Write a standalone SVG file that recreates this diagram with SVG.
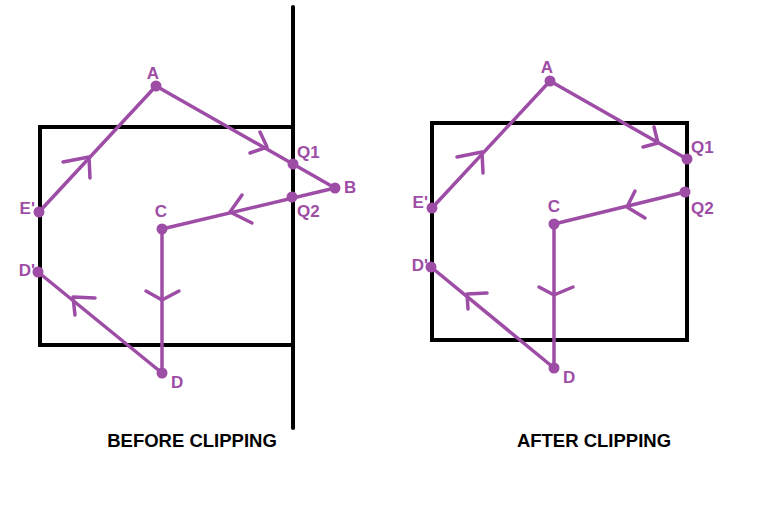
<svg xmlns="http://www.w3.org/2000/svg" width="768" height="508" viewBox="0 0 768 508">
<style>
.box{fill:none;stroke:#000;stroke-width:4}
.clip{stroke:#000;stroke-width:4;stroke-linecap:round}
.edge{fill:none;stroke:#9E4DA6;stroke-width:3.5;stroke-linecap:round;stroke-linejoin:round}
.dot{fill:#9E4DA6}
.lbl{font-family:"Liberation Sans",Arial,sans-serif;font-weight:bold;font-size:17px;fill:#9E4DA6}
.title{font-family:"Liberation Sans",Arial,sans-serif;font-weight:bold;font-size:18.5px;fill:#000}
</style>
<rect width="768" height="508" fill="#fff"/>
<g id="before">
<g id="window-left"><rect class="box" x="40" y="127" width="253" height="218"/></g>
<g id="clip-line"><line class="clip" x1="293" y1="7" x2="293" y2="428"/></g>
<g id="connectors-left">
<polyline class="edge" points="39,212 156,86 335,188 162,229 162,373 38,272"/>
<polyline class="edge" points="63,162 89,157 90,178"/>
<polyline class="edge" points="250,153 267,147 260,132"/>
<polyline class="edge" points="242,195 230,212 252,223"/>
<polyline class="edge" points="146,291 162,300 179,291"/>
<polyline class="edge" points="95,298 73,297 75,315"/>
</g>
<g id="A-left"><circle class="dot" cx="156" cy="86" r="5.5"/><text class="lbl" x="153" y="79" text-anchor="middle">A</text></g>
<g id="Q1-left"><circle class="dot" cx="293" cy="164" r="5.5"/><text class="lbl" x="297" y="158">Q1</text></g>
<g id="B-left"><circle class="dot" cx="335" cy="188" r="5.5"/><text class="lbl" x="344" y="193">B</text></g>
<g id="Q2-left"><circle class="dot" cx="292" cy="197" r="5.5"/><text class="lbl" x="297" y="217">Q2</text></g>
<g id="E-left"><circle class="dot" cx="39" cy="212" r="5.5"/><text class="lbl" x="35" y="214" text-anchor="end">E'</text></g>
<g id="C-left"><circle class="dot" cx="162" cy="229" r="5.5"/><text class="lbl" x="161" y="217" text-anchor="middle">C</text></g>
<g id="D2-left"><circle class="dot" cx="38" cy="272" r="5.5"/><text class="lbl" x="35" y="276" text-anchor="end">D'</text></g>
<g id="D-left"><circle class="dot" cx="162" cy="373" r="5.5"/><text class="lbl" x="171" y="388">D</text></g>
<text class="title" x="192" y="447" text-anchor="middle">BEFORE CLIPPING</text>
</g>
<g id="after">
<g id="window-right"><rect class="box" x="432" y="123" width="255" height="217"/></g>
<g id="connectors-right">
<polyline class="edge" points="432,208 550,81 687,159"/>
<polyline class="edge" points="685,192 554,224 554,368 431,267"/>
<polyline class="edge" points="457,157 482,152 483,173"/>
<polyline class="edge" points="643,147 658,143 654,127"/>
<polyline class="edge" points="635,191 627,207 645,218"/>
<polyline class="edge" points="539,287 554,295 573,287"/>
<polyline class="edge" points="487,293 467,294 468,309"/>
</g>
<g id="A-right"><circle class="dot" cx="550" cy="81" r="5.5"/><text class="lbl" x="547" y="73" text-anchor="middle">A</text></g>
<g id="Q1-right"><circle class="dot" cx="687" cy="159" r="5.5"/><text class="lbl" x="691" y="153">Q1</text></g>
<g id="Q2-right"><circle class="dot" cx="685" cy="192" r="5.5"/><text class="lbl" x="691" y="214">Q2</text></g>
<g id="E-right"><circle class="dot" cx="432" cy="208" r="5.5"/><text class="lbl" x="428" y="208" text-anchor="end">E'</text></g>
<g id="C-right"><circle class="dot" cx="554" cy="224" r="5.5"/><text class="lbl" x="554" y="212" text-anchor="middle">C</text></g>
<g id="D2-right"><circle class="dot" cx="431" cy="267" r="5.5"/><text class="lbl" x="428" y="271" text-anchor="end">D'</text></g>
<g id="D-right"><circle class="dot" cx="554" cy="368" r="5.5"/><text class="lbl" x="563" y="383">D</text></g>
<text class="title" x="594" y="447" text-anchor="middle">AFTER CLIPPING</text>
</g>
</svg>
